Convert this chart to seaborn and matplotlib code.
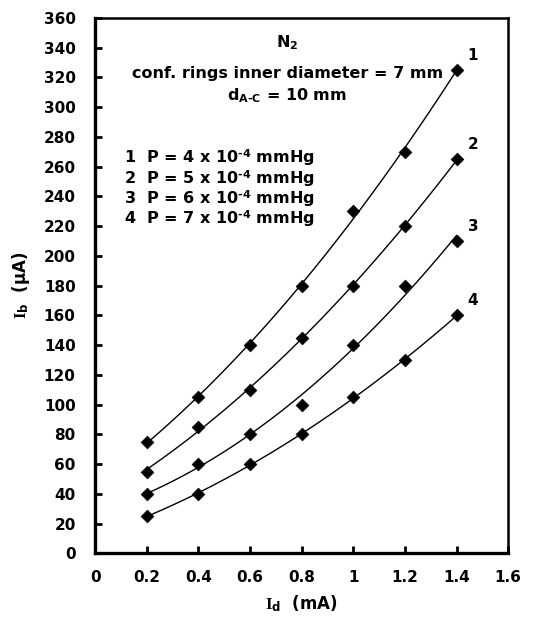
import matplotlib
matplotlib.use("Agg")
import matplotlib.pyplot as plt
import seaborn as sns
import pandas as pd

# discharge current (mA) and beam current (uA) for four pressures
i_d = [0.2, 0.4, 0.6, 0.8, 1.0, 1.2, 1.4]
ib_p1 = [75, 105, 140, 180, 230, 270, 325]
ib_p2 = [55, 85, 110, 145, 180, 220, 265]
ib_p3 = [40, 60, 80, 100, 140, 180, 210]
ib_p4 = [25, 40, 60, 80, 105, 130, 160]
curve_labels = ["1", "2", "3", "4"]
pressures = ["4", "5", "6", "7"]

sns.set_style("ticks")
plt.rcParams["font.family"] = ["DejaVu Sans"]
plt.rcParams["font.weight"] = "bold"
plt.rcParams["mathtext.fontset"] = "custom"
plt.rcParams["mathtext.rm"] = "DejaVu Sans:bold"
plt.rcParams["mathtext.bf"] = "DejaVu Sans:bold"
plt.rcParams["mathtext.it"] = "Liberation Serif:bold"
for key in ["text.color", "axes.labelcolor", "xtick.color", "ytick.color", "axes.edgecolor"]:
    plt.rcParams[key] = "black"

fig = plt.figure(figsize=(5.53, 6.21), dpi=100)
ax = fig.add_axes([0.172, 0.109, 0.747, 0.862])

for lab, vals in zip(curve_labels, [ib_p1, ib_p2, ib_p3, ib_p4]):
    df = pd.DataFrame({"Id": i_d, "Ib": vals})
    sns.regplot(data=df, x="Id", y="Ib", order=2, ci=None, truncate=True, ax=ax,
                marker="D", color="black",
                scatter_kws={"s": 42, "alpha": 1, "edgecolors": "black",
                             "linewidths": 0.5, "zorder": 3},
                line_kws={"lw": 1.0, "color": "black"})
    ax.annotate(lab, (i_d[-1], vals[-1]), xytext=(8, 5), textcoords="offset points",
                fontsize=11, fontweight="bold", ha="left", va="bottom")

ax.set_xlim(0, 1.6)
ax.set_ylim(0, 360)
ax.set_xticks([0, 0.2, 0.4, 0.6, 0.8, 1.0, 1.2, 1.4, 1.6])
ax.set_xticklabels(["0", "0.2", "0.4", "0.6", "0.8", "1", "1.2", "1.4", "1.6"])
ax.set_yticks(range(0, 361, 20))
ax.tick_params(direction="in", length=5, width=2, labelsize=11)
ax.tick_params(axis="y", pad=14)
ax.tick_params(axis="x", pad=12)
for lbl in ax.get_xticklabels() + ax.get_yticklabels():
    lbl.set_fontweight("bold")
for side in ["left", "bottom"]:
    ax.spines[side].set_linewidth(2.4)
for side in ["top", "right"]:
    ax.spines[side].set_linewidth(1.8)

ax.set_xlabel(r"$\mathit{I}_\mathbf{d}$  (mA)", fontsize=12, fontweight="bold", labelpad=6)
ax.set_ylabel(r"$\mathit{I}_\mathbf{b}$  ($\mathbf{\mu}$A)", fontsize=12, fontweight="bold",
              labelpad=8)

ax.text(0.745, 343, r"N$_\mathbf{2}$", fontsize=11.5, fontweight="bold", ha="center", va="center")
ax.text(0.745, 323, "conf. rings inner diameter = 7 mm", fontsize=11.5, fontweight="bold",
        ha="center", va="center")
ax.text(0.745, 308, r"d$_\mathbf{A\text{-}C}$ = 10 mm", fontsize=11.5, fontweight="bold",
        ha="center", va="center")
for k, (lab, p) in enumerate(zip(curve_labels, pressures)):
    ax.text(0.112, 266 - 13.7 * k, lab + "  P = " + p + r" x 10$^\mathbf{\text{-4}}$ mmHg",
            fontsize=11.5, fontweight="bold", ha="left", va="center")

fig.savefig("out.png", dpi=100)
